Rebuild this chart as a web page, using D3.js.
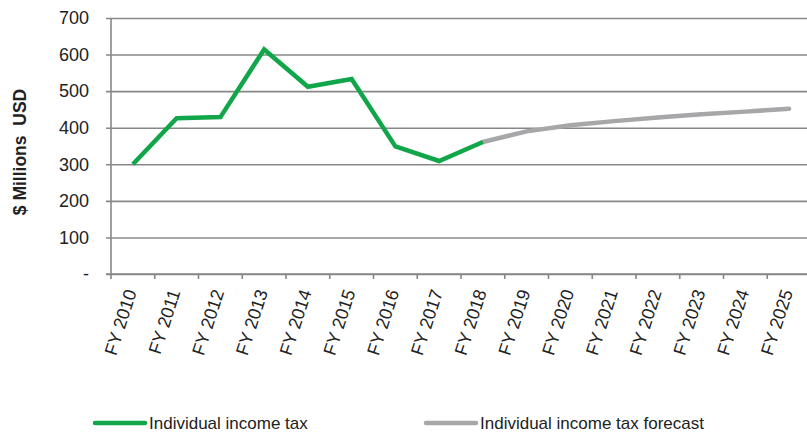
<!DOCTYPE html>
<html>
<head>
<meta charset="utf-8">
<script src="https://cdn.jsdelivr.net/npm/d3@7"></script>
<style>
  html, body { margin: 0; padding: 0; background: #fff; }
  svg { display: block; font-family: "Liberation Sans", Arial, sans-serif; }
</style>
</head>
<body>
<svg id="chart" width="807" height="436"></svg>
<script>
const categories = ["FY 2010","FY 2011","FY 2012","FY 2013","FY 2014","FY 2015","FY 2016","FY 2017","FY 2018","FY 2019","FY 2020","FY 2021","FY 2022","FY 2023","FY 2024","FY 2025"];
const actualValues = [300, 426, 429, 614, 512, 533, 349, 309, 361, null, null, null, null, null, null, null];
const forecastValues = [null, null, null, null, null, null, null, null, 361, 390, 407, 418, 428, 437, 444, 452];
const yTicks = [0, 100, 200, 300, 400, 500, 600, 700];
const seriesNames = ["Individual income tax", "Individual income tax forecast"];
const seriesColors = ["#12a64b", "#a7a7aa"];
const yTitle = "$ Millions  USD";

const svg = d3.select("#chart");
const mLeft = 111, mRight = 811, mTop = 18, mBottom = 274;

const x = d3.scaleBand().domain(categories).range([mLeft, mRight]).padding(0);
const y = d3.scaleLinear().domain([0, 700]).range([mBottom, mTop]);

// Y axis with gridlines
const yAxis = d3.axisLeft(y).tickValues(yTicks)
  .tickSize(-(mRight - mLeft)).tickSizeOuter(0).tickPadding(22)
  .tickFormat(d => d === 0 ? "-" : d3.format("d")(d));
const gy = svg.append("g").attr("transform", `translate(${mLeft},0)`).call(yAxis);
gy.select(".domain").remove();
gy.selectAll(".tick line").attr("stroke", "#878787").attr("stroke-width", 1.6).attr("x1", -5);
gy.selectAll(".tick text").attr("fill", "#222").style("font-size", "18px")
  .attr("x", -22);

// Left axis line
svg.append("line").attr("x1", mLeft).attr("x2", mLeft).attr("y1", mTop).attr("y2", mBottom)
  .attr("stroke", "#878787").attr("stroke-width", 1.6);

// X axis (ticks at category boundaries)
const boundaries = categories.map(c => x(c));
svg.append("line").attr("x1", mLeft - 5).attr("x2", mRight).attr("y1", mBottom).attr("y2", mBottom)
  .attr("stroke", "#878787").attr("stroke-width", 1.6);
svg.append("g").selectAll("line").data(boundaries).join("line")
  .attr("x1", d => d).attr("x2", d => d).attr("y1", mBottom).attr("y2", mBottom + 5)
  .attr("stroke", "#878787").attr("stroke-width", 1.6);

svg.append("g").selectAll("text").data(categories).join("text")
  .attr("transform", d => `translate(${x(d) + x.bandwidth() / 2 + 4},${mBottom + 18}) rotate(-72)`)
  .attr("text-anchor", "end")
  .attr("fill", "#222")
  .style("font-size", "18px")
  .text(d => d);

// Y title
svg.append("text")
  .attr("transform", `translate(26,152) rotate(-90)`)
  .attr("text-anchor", "middle")
  .attr("fill", "#222")
  .style("font-size", "17.5px").style("font-weight", "bold")
  .style("white-space", "pre")
  .text(yTitle);

// Lines
const line = d3.line()
  .defined(d => d.v != null)
  .x(d => x(d.c) + x.bandwidth() / 2)
  .y(d => y(d.v));

const plotG = svg.append("g");
plotG.append("path")
  .datum(categories.map((c, i) => ({ c, v: forecastValues[i] })))
  .attr("fill", "none").attr("stroke", seriesColors[1]).attr("stroke-width", 4.5)
  .attr("stroke-linejoin", "round").attr("stroke-linecap", "round")
  .attr("d", line);
plotG.append("path")
  .datum(categories.map((c, i) => ({ c, v: actualValues[i] })))
  .attr("fill", "none").attr("stroke", seriesColors[0]).attr("stroke-width", 4.5)
  .attr("stroke-linejoin", "miter")
  .attr("d", line);

// Legend
const legendItems = [
  { name: seriesNames[0], color: seriesColors[0], x1: 95, x2: 145, tx: 149 },
  { name: seriesNames[1], color: seriesColors[1], x1: 426, x2: 476, tx: 480 }
];
const lg = svg.append("g").selectAll("g").data(legendItems).join("g");
lg.append("line")
  .attr("x1", d => d.x1).attr("x2", d => d.x2).attr("y1", 423).attr("y2", 423)
  .attr("stroke", d => d.color).attr("stroke-width", 4.5).attr("stroke-linecap", "round");
lg.append("text")
  .attr("x", d => d.tx).attr("y", 429)
  .attr("fill", "#222")
  .style("font-size", "17px")
  .text(d => d.name);
</script>
</body>
</html>
